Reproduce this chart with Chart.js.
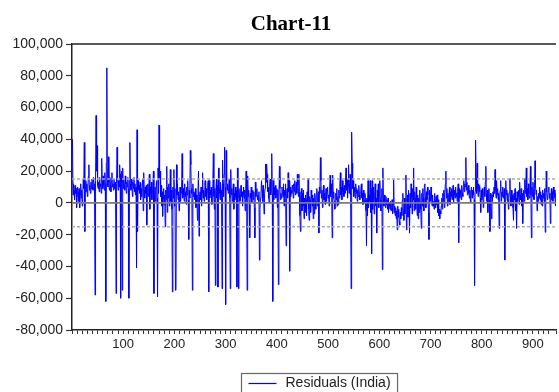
<!DOCTYPE html>
<html lang="en">
<head>
    <meta charset="UTF-8">
    <title>Chart-11</title>
    <script src="https://cdn.jsdelivr.net/npm/chart.js@4.4.1/dist/chart.umd.min.js"></script>
</head>
<style>
    html, body {
        margin: 0;
        padding: 0;
        background: #fff;
    }

    .chart {
        position: relative;
        width: 559px;
        height: 392px;
    }
</style>
<body>
    <div class="chart">
        <canvas id="myChart"></canvas>
    </div>

    <script>
        const chartTitle = 'Chart-11'
        const seriesName = 'Residuals (India)'

        const residuals = [
            // 1-100
            40000, 5000, 12000, 8000, 2000, 11000, 6000, 9000, -3000, 4000,
            10000, 7000, 1000, 9000, -3000, 5000, 12000, 3000, 8000, -2000,
            6000, 15000, 9000, 38000, -18000, 10000, 14000, 7000, 12000, 4000,
            9000, 17000, 24000, 8000, 11000, 6000, 13000, 9000, 15000, 10000,
            8000, 16000, 12000, 5000, -58000, 14000, 55000, 20000, 36000, 11000,
            9000, 13000, 7000, 16000, 10000, 12000, 6000, 28000, 14000, 9000,
            17000, 11000, 8000, 19000, 12000, -62000, 25000, 85000, 15000, 10000,
            29000, 13000, 8000, 16000, 11000, 7000, 14000, 19000, 10000, 12000,
            8000, 15000, 9000, 13000, 11000, -57000, 12000, 35000, 16000, 8000,
            14000, 10000, 24000, 18000, -60000, 12000, 20000, -55000, 22000, 9000,
            // 101-200
            15000, 11000, 8000, 17000, 12000, 6000, 13000, 10000, 16000, 9000,
            -60000, 14000, 38000, 12000, 8000, 15000, 11000, 4000, 13000, 9000,
            16000, 7000, 12000, 5000, 10000, -41000, 46000, -18000, 14000, 8000,
            11000, 6000, 13000, 2000, 9000, 4000, 12000, 15000, -5000, 19000,
            8000, 3000, 10000, 6000, 11000, -14000, 7000, 12000, 4000, 9000,
            18000, -4000, 10000, 6000, 13000, 2000, 8000, 11000, 20000, -57000,
            5000, 10000, 1000, 8000, 14000, 3000, -59000, 22000, 6000, 49000,
            15000, 20000, 4000, 11000, -2000, 7000, -8500, 3000, 9000, -1000,
            5000, -15000, 8000, 2000, 23000, -6000, 10000, 3000, 12000, -2000,
            6000, 21000, 1000, 8000, -4000, -56000, 10000, 3000, 21000, -2000,
            // 201-300
            9000, -55000, -54000, 24000, 5000, 12000, 2000, 7000, -5000, 4000,
            10000, 1000, 6000, 8000, 31000, 3000, 9000, 5000, 1000, 12000,
            4000, 7000, -1000, 10000, 5000, 14000, 2000, -23000, 8000, 3000,
            33000, 24000, 6000, 9000, -55000, 12000, 4000, 7000, 6000, 2000,
            9000, -3000, 5000, 1000, -11000, 8000, 20000, -21000, 4000, 7000,
            2000, 10000, -2000, 6000, 19000, 3000, 8000, 1000, 5000, 14000,
            4000, 9000, 2000, 7000, 11000, 14000, -56000, 14000, 3000, 8000,
            5000, 10000, -1000, 6000, 12000, 31000, 4000, -4000, 9000, -52000,
            7000, 15000, 3000, 11000, -53000, 22000, 6000, 9000, 2000, 13000,
            8000, 5000, -54000, 27000, 12000, 4000, 18000, 35000, 10000, -64000,
            // 301-400
            33000, 14000, 8000, 12000, 6000, 10000, 15000, 3000, -54000, 21000,
            5000, 9000, 1000, 7000, 12000, -4000, 6000, 2000, 10000, 4000,
            8000, -53000, 22000, 3000, -54000, 9000, 5000, 1000, 6000, 11000,
            4000, 7000, -2000, 5000, 10000, 3000, 8000, -5000, 6000, 20000,
            2000, -55000, 17000, 4000, 8000, -1000, -22000, 6000, 3000, 10000,
            0, 5000, 8000, 2000, 7000, -3000, -22000, 13000, 4000, 6000,
            9000, 2000, 5000, 1000, 7000, -36000, -4000, 3000, 6000, 14000,
            8000, 1000, 11000, 4000, -7000, 6000, 9000, 24500, 13000, 24500,
            18000, 7000, 10000, 3000, 0, 12000, 15000, 5000, 8000, 31000,
            6000, -62000, 14000, 2000, 10000, 5000, 11000, 3000, 7000, 9000,
            // 401-500
            -3000, 8000, -51500, 4000, 23000, 9000, 2000, 6000, 3000, 10000,
            7000, 4000, 12000, -2000, 8000, 5000, 12000, -27000, 6000, 9000,
            3000, 19000, 7000, 14000, -43000, 10000, 4000, 8000, 6000, 11000,
            9000, 3000, 12000, 7000, 14000, 5000, 10000, 13000, 6000, 18000,
            11000, 4000, 18000, 7000, -8000, -18000, 3000, 9000, -5000, 6000,
            -2000, 8000, -10000, 3000, -6000, 5000, 2000, -8000, 7000, 1000,
            15500, -4000, -11000, 4000, 2000, -6000, 8000, 3000, -2000, 5000,
            -10000, 3000, -7000, 6000, 1000, -4000, 5000, 9000, -2000, 4000,
            7000, -19000, 10000, 6000, 28500, 14000, 3000, 8000, -3000, 5000,
            11000, 2000, 6000, -1000, 4000, 9000, 1000, 7000, 10000, 3000,
            // 501-600
            5000, -2000, 8000, 17500, 4000, 12000, 6000, -22000, 17500, 3000,
            7000, 1000, -4000, -3000, 6000, 2000, 9000, -2000, 4000, -1000,
            8000, 3000, 12000, 19000, 5000, 10000, 2000, 14000, 7000, 9000,
            4000, 11000, 6000, 13000, 22000, 8000, 15000, 3000, 10000, 24000,
            6000, 12000, 18000, 5000, -54000, 44500, 25000, 9000, 14000, 4000,
            10000, 7000, 3000, 12000, 6000, 9000, 1000, 8000, 4000, 11000,
            5000, 2000, 7000, 9000, 12000, 3000, 6000, -1000, 8000, 4000,
            0, 6000, 2000, -5000, -27000, 3000, -8000, 14000, -3000, 5000,
            1000, 14000, -6000, 9000, -32000, 14000, -4000, 10000, 2000, -7000,
            5000, 12000, -2000, 3000, -19000, 8000, 1000, 12000, -3000, 6000,
            // 601-700
            14000, 2000, -5000, 4000, 9000, -42000, 22000, 3000, -2000, 5000,
            1000, -3000, 4000, -1000, 2000, -4000, 3000, -6000, 0, -2000,
            -4000, 1000, -5000, -3000, 2000, -7000, -1000, 14500, -6000, -2000,
            -8000, -3000, -10000, -5000, -17000, -2000, -9000, -4000, -12000, -14000,
            -6000, -10000, -3000, -8000, 2000, 6000, -5000, -11000, 3000, -7000,
            1000, 17500, -17000, -4000, 5000, -9000, 8000, -2000, -19000, 6000,
            -3000, 12000, 4000, -7000, 9000, 2000, 22000, -5000, 7000, 3000,
            -4000, 10000, 1000, -8000, 5000, -10000, 3000, -6000, 8000, 0,
            -4000, -16000, 6000, -2000, 9000, 3000, -5000, 11000, 12000, 4000,
            -3000, 7000, 2000, 10000, 5000, -6000, -23000, 8000, 1000, 4000,
            // 701-800
            10000, 3000, -2000, 5000, -2000, 1000, -4000, 6000, 2000, -3000,
            4000, -1000, 5000, -6000, 2000, -8000, -4000, -10000, -5000, -7000,
            -2000, 3000, -4000, 6000, 1000, 8000, -3000, 5000, 12000, 20000,
            3000, 9000, -2000, 6000, 1000, 5000, 10000, -1000, 7000, 4000,
            9000, 2000, 6000, 11000, 0, 5000, 8000, 3000, 10000, 4000,
            6000, 1000, 7000, 12000, -25000, 9000, 3000, 5000, 8000, 2000,
            11000, 6000, 4000, 9000, 14000, 7000, 12000, 10000, 28500, 8000,
            13000, 5000, 9000, 11000, 6000, 3000, 8000, 0, 5000, 10000,
            3000, 8000, 5000, 10000, 2000, -52000, 7000, 39500, 15000, 6000,
            25000, 9000, 4000, 12000, 7000, 11000, 3000, -6000, 8000, 2000,
            // 801-900
            9000, 5000, -3000, 7000, 10000, 4000, 13000, 23000, 6000, 1000,
            8000, -6000, 4000, 9000, 2000, -18000, 6000, 3000, -10000, 5000,
            1000, 7000, 4000, 10000, 6000, 21000, 8000, 3000, 14000, 5000,
            9000, 2000, 6000, -16000, 4000, 8000, 14000, 1000, 7000, 4000,
            10000, 3000, 6000, 9000, -36000, 2000, 14000, 5000, 8000, 1000,
            6000, -4000, 3000, 7000, 15500, 4000, -2000, 8000, 1000, 5000,
            -3000, -11000, 6000, 2000, 9000, -5000, 3000, -16000, 7000, 1000,
            4000, 8000, -1000, 13000, 5000, 2000, 9000, -2000, 6000, -13000,
            3000, 8000, 1000, 15500, 6000, 10000, 22000, 4000, 9000, 2000,
            12000, 6000, 3000, 8000, 23000, 5000, -22000, 10000, 4000, 13000,
            // 901-945
            7000, 2000, 9000, 26500, 11000, 5000, 8000, -5000, 4000, 1000,
            6000, 3000, 10000, 2000, 7000, -1000, 5000, -2000, 8000, 3000,
            6000, 1000, 9000, -18500, 4000, 20000, 7000, 2000, 5000, 8000,
            10000, 3000, 6000, -13000, 4000, 9000, 2000, 7000, 1000, 10000,
            5000, 8000, 3000, -2000, 6000
        ]

        // +/- band and zero reference
        const bandLines = [15000, -15000]
        const zeroLine = 0

        const yMin = -80000
        const yMax = 100000
        const yStep = 20000
        const xMax = 945
        const xMajor = 100
        const xMinor = 10

        const labelFont = { family: 'Liberation Sans', size: 14 }
        const xFont = { family: 'Liberation Sans', size: 13 }

        const hLine = (y) => [{ x: 0, y: y }, { x: xMax, y: y }]

        // title + top border of the frame
        const framePlugin = {
            id: 'frame',
            afterDraw(chart) {
                const { ctx, chartArea } = chart
                ctx.save()
                ctx.strokeStyle = '#222'
                ctx.lineWidth = 1.5
                ctx.beginPath()
                ctx.moveTo(chartArea.left, chartArea.top)
                ctx.lineTo(chartArea.right, chartArea.top)
                ctx.stroke()
                ctx.fillStyle = '#000'
                ctx.font = 'bold 21px "Liberation Serif"'
                ctx.textAlign = 'center'
                ctx.textBaseline = 'middle'
                ctx.fillText(chartTitle, chartArea.left + 219, 25)
                ctx.restore()
            }
        }

        // boxed legend under the axis
        const boxLegend = {
            id: 'boxLegend',
            afterDraw(chart) {
                const { ctx, chartArea } = chart
                const ds = chart.data.datasets[0]
                ctx.save()
                ctx.font = `${labelFont.size}px ${labelFont.family}`
                const textW = ctx.measureText(ds.label).width
                const w = 7 + 28 + 9 + textW + 7
                const left = Math.round((chartArea.left + chartArea.right) / 2 + 5 - w / 2) + 0.5
                const top = 373.5
                ctx.strokeStyle = '#666'
                ctx.lineWidth = 1.2
                ctx.strokeRect(left, top, w, 26)
                ctx.strokeStyle = ds.borderColor
                ctx.lineWidth = 1.2
                ctx.beginPath()
                ctx.moveTo(left + 7, top + 10)
                ctx.lineTo(left + 35, top + 10)
                ctx.stroke()
                ctx.fillStyle = '#222'
                ctx.textBaseline = 'middle'
                ctx.fillText(ds.label, left + 44, top + 10)
                ctx.restore()
            }
        }

        const chart = new Chart('myChart', {
            type: 'line',
            data: {
                datasets: [{
                    label: seriesName,
                    data: residuals.map((v, i) => ({ x: i + 1, y: v })),
                    borderColor: '#0000ff',
                    borderWidth: 1,
                    pointRadius: 0,
                    tension: 0,
                    order: 2
                }, {
                    label: 'zero',
                    data: hLine(zeroLine),
                    borderColor: '#7a7a7a',
                    borderWidth: 1.6,
                    pointRadius: 0,
                    order: 0
                }, {
                    label: 'upper',
                    data: hLine(bandLines[0]),
                    borderColor: '#ababab',
                    borderWidth: 1.4,
                    borderDash: [3, 2],
                    pointRadius: 0,
                    order: 1
                }, {
                    label: 'lower',
                    data: hLine(bandLines[1]),
                    borderColor: '#ababab',
                    borderWidth: 1.4,
                    borderDash: [3, 2],
                    pointRadius: 0,
                    order: 1
                }]
            },
            options: {
                responsive: true,
                maintainAspectRatio: false,
                animation: false,
                layout: {
                    padding: { left: 8, right: 0, top: 44, bottom: 0 }
                },
                plugins: {
                    legend: { display: false },
                    tooltip: { enabled: false },
                    title: { display: false }
                },
                scales: {
                    x: {
                        type: 'linear',
                        min: 0,
                        max: xMax,
                        border: { color: '#222', width: 1.5 },
                        grid: { drawOnChartArea: false, tickLength: 4, tickColor: '#333', tickWidth: 1 },
                        ticks: {
                            stepSize: xMinor,
                            autoSkip: false,
                            maxRotation: 0,
                            padding: 3,
                            color: '#222',
                            font: xFont,
                            callback: (v) => (v > 0 && v % xMajor === 0) ? v : ''
                        },
                        afterFit: (s) => { s.height = 62 }
                    },
                    y: {
                        min: yMin,
                        max: yMax,
                        border: { color: '#222', width: 1.5 },
                        grid: { drawOnChartArea: false, tickLength: 6, tickColor: '#333', tickWidth: 1.2 },
                        ticks: {
                            stepSize: yStep,
                            padding: 3,
                            color: '#222',
                            font: labelFont,
                            callback: (v) => v.toLocaleString('en-US')
                        },
                        afterFit: (s) => { s.width = 64 }
                    }
                }
            },
            plugins: [framePlugin, boxLegend]
        })
    </script>
</body>
</html>
